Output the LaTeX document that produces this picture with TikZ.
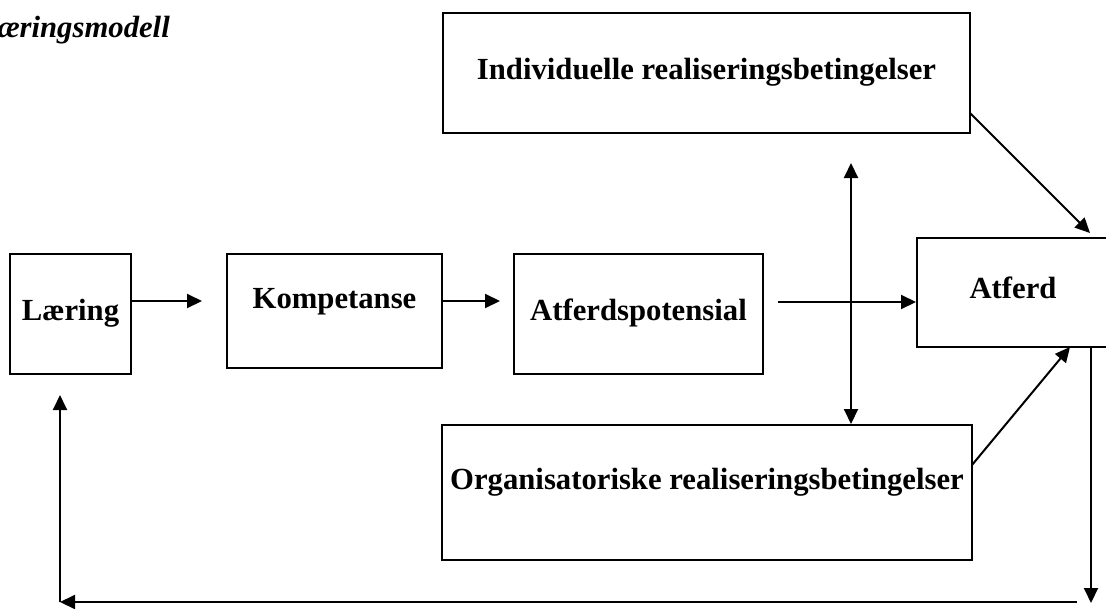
\documentclass[tikz,border=0pt]{standalone}
\usepackage{fontspec}
\setmainfont{Liberation Serif}
\usetikzlibrary{arrows.meta}

\tikzset{
  box/.style={draw, line width=2pt, inner sep=0pt, text height=20pt, text depth=8pt},
  hi/.style={text depth=26pt},
  arr/.style={-{Triangle[length=15pt,width=14pt]}, line width=2pt},
}

\begin{document}
\begin{tikzpicture}[x=1pt, y=-1pt, font=\bfseries\fontsize{30.7}{36}\selectfont]
\useasboundingbox (0,0) rectangle (1106,608);
\node[anchor=base east, inner sep=0pt, font=\bfseries\itshape\fontsize{30.7}{36}\selectfont] (title) at (170,37) {Læringsmodell};
% boxes
\node[box, minimum width=121pt, minimum height=120pt] (laering) at (70.5,314) {Læring};
\node[box, hi, minimum width=215pt, minimum height=114pt] (komp) at (334.5,311) {Kompetanse};
\node[box, minimum width=249pt, minimum height=120pt] (potensial) at (638.5,314) {Atferdspotensial};
\node[box, minimum width=192pt, minimum height=109pt] (atferd) at (1013,292.5) {Atferd};
\node[box, minimum width=527pt, minimum height=120pt] (indiv) at (706.5,73) {Individuelle realiseringsbetingelser};
\node[box, hi, minimum width=530pt, minimum height=135pt] (org) at (707,492.5) {Organisatoriske realiseringsbetingelser};
% free ends
\coordinate (a1) at (202,301);
\coordinate (a2) at (500,301);
\coordinate (a3) at (778,302);
\coordinate (d1) at (851,163);
\coordinate (i1) at (970,113);
\coordinate (i2) at (1090,233);
\coordinate (o1) at (972,465);
\coordinate (o2) at (1070,347);
\coordinate (f1) at (1091,603);
\coordinate (f2) at (1077,602);
\coordinate (f3) at (60,602);
\coordinate (f4) at (60,395);
% arrows
\draw[arr] (laering.east |- a1) -- (a1);
\draw[arr] (komp.east |- a2) -- (a2);
\draw[arr] (a3) -- (atferd.west |- a3);
\draw[arr, {Triangle[length=15pt,width=14pt]}-{Triangle[length=15pt,width=14pt]}] (d1) -- (org.north -| d1);
\draw[arr] (i1) -- (i2);
\draw[arr] (o1) -- (o2);
\draw[arr] (atferd.south -| f1) -- (f1);
\draw[arr] (f2) -- (f3);
\draw[arr] (f3) -- (f4);
\end{tikzpicture}
\end{document}
